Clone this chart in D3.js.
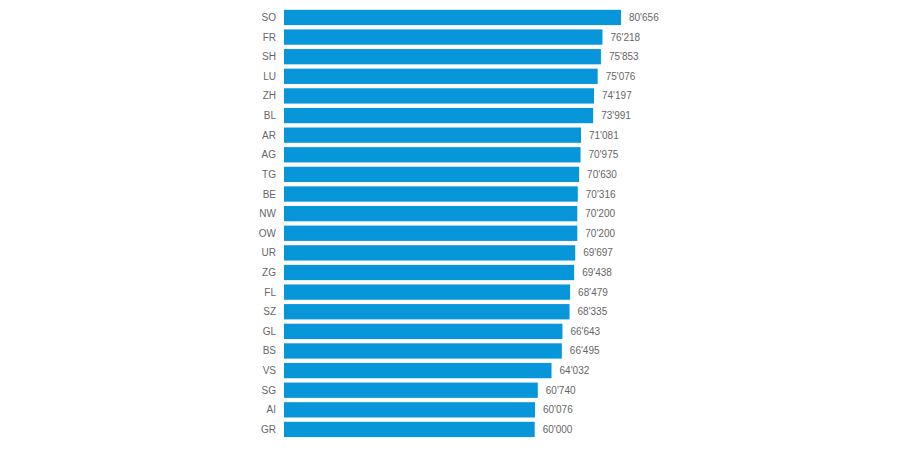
<!DOCTYPE html>
<html><head><meta charset="utf-8">
<script src="https://cdn.jsdelivr.net/npm/d3@7"></script>
<style>body{margin:0;background:#fff;} text{font-family:"Liberation Sans",Arial,sans-serif;}</style>
</head><body>
<svg id="c" width="900" height="450"></svg>
<script>
const cantons = ["SO","FR","SH","LU","ZH","BL","AR","AG","TG","BE","NW","OW","UR","ZG","FL","SZ","GL","BS","VS","SG","AI","GR"];
const values = [80656,76218,75853,75076,74197,73991,71081,70975,70630,70316,70200,70200,69697,69438,68479,68335,66643,66495,64032,60740,60076,60000];

const svg = d3.select("#c");
const x0 = 284;
const x = d3.scaleLinear().domain([0, 80656]).range([x0, 621]);
const y = d3.scaleBand().domain(cantons).range([9.8, 437.1]).paddingInner(0.22).paddingOuter(0);
const fmt = v => d3.format(",")(v).replace(/,/g, "'");

svg.selectAll("rect.bar").data(cantons).join("rect")
  .attr("class","bar")
  .attr("x", x(0))
  .attr("y", d => y(d))
  .attr("width", (d,i) => x(values[i]) - x(0))
  .attr("height", y.bandwidth())
  .attr("fill", "#0796da");

svg.selectAll("text.lab").data(cantons).join("text")
  .attr("class","lab")
  .attr("x", 276)
  .attr("y", d => y(d) + y.bandwidth()/2)
  .attr("dy", "0.35em")
  .attr("text-anchor","end")
  .attr("font-size", 10)
  .attr("fill", "#666")
  .text(d => d);

svg.selectAll("text.val").data(cantons).join("text")
  .attr("class","val")
  .attr("x", (d,i) => x(values[i]) + 8)
  .attr("y", d => y(d) + y.bandwidth()/2)
  .attr("dy", "0.35em")
  .attr("font-size", 10)
  .attr("fill", "#666")
  .text((d,i) => fmt(values[i]));
</script>
</body></html>
